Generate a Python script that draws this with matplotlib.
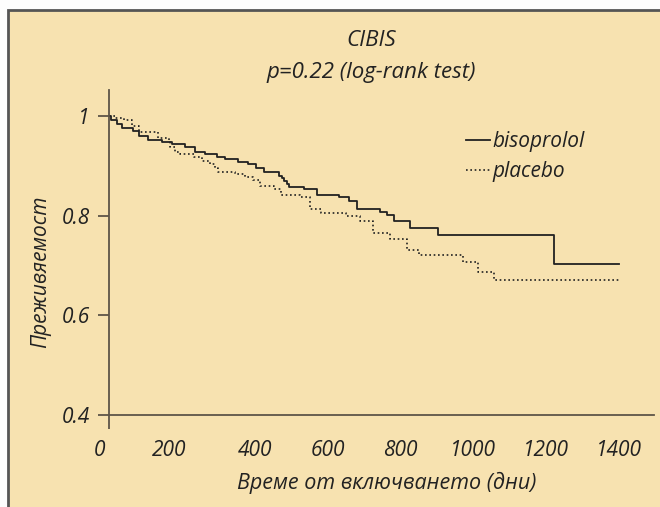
import numpy as np
import matplotlib
matplotlib.use("Agg")
import matplotlib.pyplot as plt
import matplotlib.transforms as mtransforms
from matplotlib.patches import Rectangle

plt.rcParams['font.family'] = ['Open Sans', 'DejaVu Sans']
plt.rcParams['font.style'] = 'italic'

# Kaplan-Meier steps: (time of drop, survival after drop)
biso_t = [0, 6, 21, 35, 65, 81, 108, 145, 172, 209, 236, 264, 296, 318, 355, 382,
          403, 426, 468, 474, 479, 488, 494, 536, 570, 631, 660, 681, 744, 764,
          783, 826, 904, 1222, 1400]
biso_s = [1.0, 0.992, 0.983, 0.975, 0.970, 0.960, 0.952, 0.948, 0.944, 0.938, 0.928,
          0.924, 0.918, 0.913, 0.908, 0.904, 0.896, 0.888, 0.880, 0.875, 0.870,
          0.864, 0.857, 0.854, 0.841, 0.837, 0.829, 0.814, 0.807, 0.801, 0.790,
          0.775, 0.761, 0.702, 0.702]

plac_t = [0, 17, 40, 64, 81, 134, 165, 168, 181, 195, 232, 254, 277, 291, 300, 346,
          373, 396, 415, 454, 471, 524, 552, 582, 651, 690, 725, 771, 818, 851,
          973, 1014, 1057, 1400]
plac_s = [1.0, 0.995, 0.991, 0.980, 0.967, 0.955, 0.948, 0.938, 0.928, 0.924, 0.918,
          0.910, 0.904, 0.895, 0.888, 0.884, 0.877, 0.872, 0.860, 0.853, 0.841,
          0.838, 0.814, 0.806, 0.799, 0.790, 0.766, 0.753, 0.731, 0.720, 0.707,
          0.686, 0.671, 0.671]

xticks = [0, 200, 400, 600, 800, 1000, 1200, 1400]
yticks = [0.4, 0.6, 0.8, 1.0]
ytick_labels = ['0.4', '0.6', '0.8', '1']

bg = '#f7e2b0'
axcol = '#5e5548'
ink = '#222222'

fig = plt.figure(figsize=(6.6, 5.07), dpi=100, facecolor='#fdfdfd')
fig.patches.append(Rectangle((8 / 660, -0.1), 1.0, 1.1 - 10 / 507,
                             transform=fig.transFigure, facecolor=bg,
                             edgecolor='#555555', linewidth=2, zorder=-5))

ax = fig.add_axes([109 / 660, 1 - 415 / 507, 545 / 660, 325 / 507])
ax.set_zorder(2)
ax.set_facecolor('none')
ax.step(biso_t, biso_s, where='post', color=ink, lw=1.3, label='bisoprolol')
ax.step(plac_t, plac_s, where='post', color=ink, lw=1.2, ls=(0, (1, 1.6)),
        label='placebo')

ax.set_xlim(0, 1496)
ax.set_ylim(0.4, 1.052)
for s in ['top', 'right']:
    ax.spines[s].set_visible(False)
for s in ['left', 'bottom']:
    ax.spines[s].set_color(axcol)
    ax.spines[s].set_linewidth(1.3)

ax.set_xticks(xticks)
ax.set_xticklabels([str(v) for v in xticks])
ax.tick_params(axis='x', which='major', length=0, pad=18, labelsize=15, labelcolor=ink)
# short downward tick only at day 0 (continuation of the y axis)
ax.xaxis.remove_overlapping_locs = False
ax.set_xticks([0], minor=True)
ax.tick_params(axis='x', which='minor', length=10, width=1.3, color=axcol)
ax.set_yticks(yticks)
ax.set_yticklabels(ytick_labels)
ax.tick_params(axis='y', length=8, width=1.3, color=axcol, pad=6, labelsize=15,
               labelcolor=ink)

# the first two day labels sit a little left of their ticks in the original
shifts = {0: -9, 1: -13}
for i, dx in shifts.items():
    lbl = ax.xaxis.get_major_ticks()[i].label1
    lbl.set_transform(lbl.get_transform() +
                      mtransforms.ScaledTranslation(dx / 100, 0, fig.dpi_scale_trans))

fig.text(371 / 660, 1 - 41 / 507, 'CIBIS', ha='center', va='center', fontsize=16,
         color=ink)
fig.text(371 / 660, 1 - 72 / 507, 'p=0.22 (log-rank test)', ha='center', va='center',
         fontsize=16, color=ink)
fig.text(41 / 660, 1 - 272 / 507, 'Преживяемост', rotation=90, ha='center',
         va='center', fontsize=15, color=ink)
fig.text(387 / 660, 1 - 483 / 507, 'Време от включването (дни)', ha='center',
         va='center', fontsize=15.5, color=ink)

leg = ax.legend(loc='upper left', bbox_to_anchor=(357 / 545, 1 - 41 / 325),
                frameon=False, fontsize=15, handlelength=1.15, handletextpad=0.12,
                labelspacing=0.45, borderpad=0, borderaxespad=0)
for t in leg.get_texts():
    t.set_color(ink)

fig.savefig('out.png', dpi=100, facecolor=fig.get_facecolor())
